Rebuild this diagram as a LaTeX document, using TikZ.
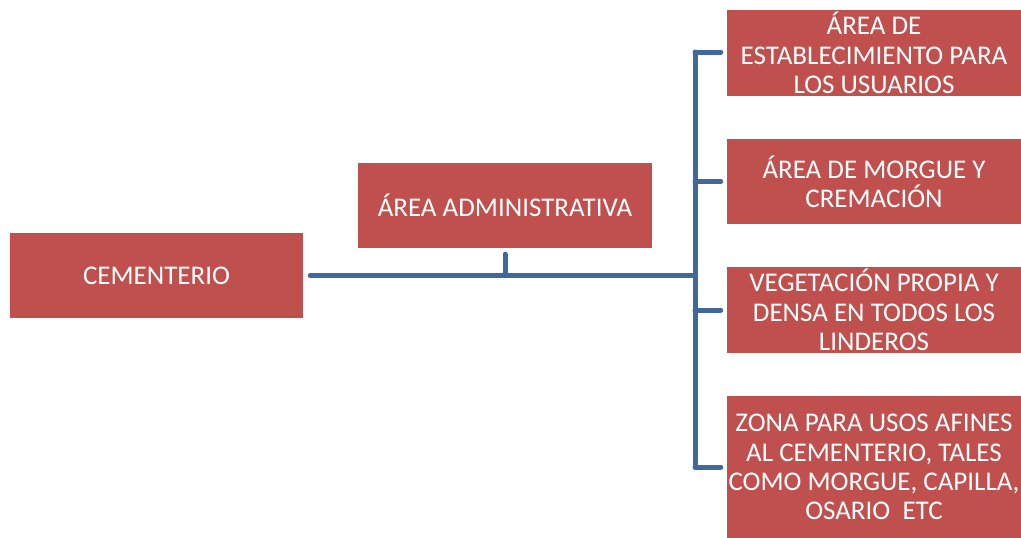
\documentclass[tikz,border=0pt]{standalone}
\usepackage{fontspec}
\setmainfont{Carlito}
\definecolor{boxred}{HTML}{C0504D}
\definecolor{lineblue}{HTML}{41689B}
\begin{document}
\begin{tikzpicture}[x=0.75pt,y=-0.75pt,
  box/.style={rectangle, fill=boxred, draw=none, text=white, align=center,
    minimum width=294*0.75pt, inner sep=0pt,
    font=\fontsize{20.25pt}{21.9pt}\selectfont},
  conn/.style={draw=lineblue, line width=3.75pt, line cap=round, line join=round}]
\useasboundingbox (0,0) rectangle (1021,537);
\node[box, minimum width=293*0.75pt, minimum height=85*0.75pt] (cem) at (156.5,275.5) {CEMENTERIO};
\node[box, minimum height=85*0.75pt] (adm) at (505,205.5) {ÁREA ADMINISTRATIVA};
\node[box, minimum height=86*0.75pt] (b1) at (874,53) {ÁREA DE\\ESTABLECIMIENTO PARA\\LOS USUARIOS};
\node[box, minimum height=85*0.75pt] (b2) at (874,181.5) {ÁREA DE MORGUE Y\\CREMACIÓN};
\node[box, minimum height=86*0.75pt] (b3) at (874,310) {VEGETACIÓN PROPIA Y\\DENSA EN TODOS LOS\\LINDEROS};
\node[box, minimum height=142*0.75pt] (b4) at (874,467) {ZONA PARA USOS AFINES\\AL CEMENTERIO, TALES\\COMO MORGUE, CAPILLA,\\OSARIO\ \ ETC};
\coordinate (tt) at (695,52);
\coordinate (tb) at (695,467);
\draw[conn] (tt) -- (tb);
\draw[conn, shorten <=5.25pt] (cem.east) -- (cem.east -| tt);
\draw[conn, shorten <=4.5pt] (adm.south) -- (adm.south |- cem.east);
\draw[conn, shorten >=4.5pt] (tt) -- (tt -| b1.west);
\draw[conn, shorten >=4.5pt] (b2.west -| tt) -- (b2.west);
\draw[conn, shorten >=4.5pt] (b3.west -| tt) -- (b3.west);
\draw[conn, shorten >=4.5pt] (tb) -- (tb -| b4.west);
\end{tikzpicture}
\end{document}
